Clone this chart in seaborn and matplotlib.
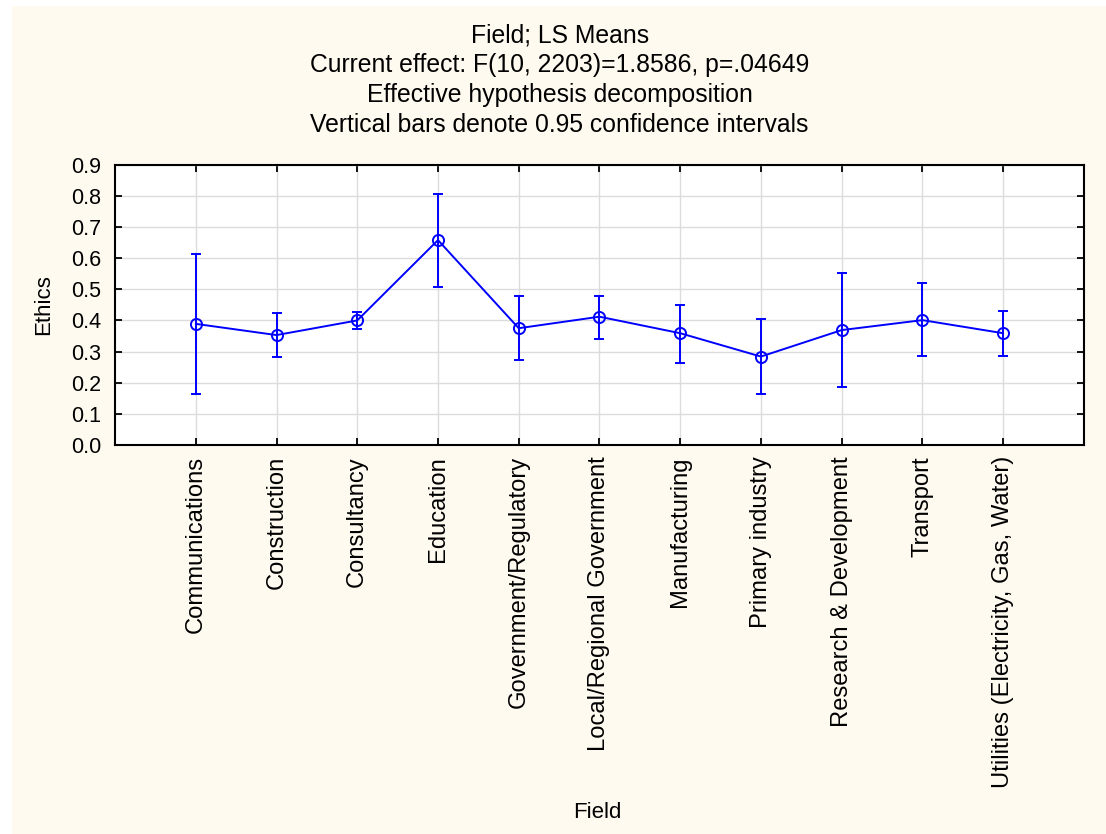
import numpy as np
import pandas as pd
import matplotlib
matplotlib.use("Agg")
import matplotlib.pyplot as plt
from matplotlib.patches import Rectangle
import seaborn as sns

# LS means of Ethics by Field, with 0.95 confidence limits
fields = [
    "Communications",
    "Construction",
    "Consultancy",
    "Education",
    "Government/Regulatory",
    "Local/Regional Government",
    "Manufacturing",
    "Primary industry",
    "Research & Development",
    "Transport",
    "Utilities (Electricity, Gas, Water)",
]
means = [0.389, 0.353, 0.400, 0.658, 0.375, 0.412, 0.359, 0.284, 0.369, 0.401, 0.359]
lower = [0.163, 0.284, 0.374, 0.508, 0.273, 0.340, 0.264, 0.165, 0.185, 0.286, 0.285]
upper = [0.613, 0.424, 0.428, 0.807, 0.480, 0.480, 0.451, 0.405, 0.553, 0.519, 0.430]
y_ticks = [0.0, 0.1, 0.2, 0.3, 0.4, 0.5, 0.6, 0.7, 0.8, 0.9]

title_lines = [
    "Field; LS Means",
    "Current effect: F(10, 2203)=1.8586, p=.04649",
    "Effective hypothesis decomposition",
    "Vertical bars denote 0.95 confidence intervals",
]

sns.set_theme(style="white")
plt.rcParams["font.family"] = ["Liberation Sans", "DejaVu Sans"]

BLUE = "#0000FF"
CREAM = "#FEFAEF"

df = pd.DataFrame({"Field": fields, "Ethics": means,
                   "lower": lower, "upper": upper})

fig = plt.figure(figsize=(11.06, 8.34), dpi=100, facecolor="white")
fig.patches.append(Rectangle((12 / 1106, 0), 1 - 12 / 1106, 1 - 6 / 834,
                             transform=fig.transFigure, facecolor=CREAM,
                             edgecolor="none", zorder=-10))

ax = fig.add_axes([0.104, 0.4664, 0.876, 0.3361])
ax.set_facecolor("white")

sns.pointplot(data=df, x="Field", y="Ethics", errorbar=None, color=BLUE,
              markers="o", markersize=8, linewidth=1.4,
              markerfacecolor="none", markeredgewidth=1.4, ax=ax)

pos = np.arange(len(fields))
m = df["Ethics"].to_numpy()
ax.errorbar(pos, m, yerr=[m - df["lower"].to_numpy(), df["upper"].to_numpy() - m],
            fmt="none", ecolor=BLUE, elinewidth=1.4, capsize=3.3,
            capthick=1.4, zorder=2)

ax.set_xlim(-1, len(fields))
ax.set_ylim(0, 0.9)
ax.set_yticks(y_ticks)
ax.set_yticklabels([f"{v:.1f}" for v in y_ticks], fontsize=15.5)
ax.set_xticks(pos)
ax.set_xticklabels(fields, rotation=90, fontsize=17.1, va="top", ha="center")

ax.grid(True, color="#DCDCDC", linewidth=1.0)
ax.set_axisbelow(True)
for s in ax.spines.values():
    s.set_visible(True)
    s.set_color("black")
    s.set_linewidth(1.5)
ax.tick_params(axis="both", direction="in", length=5, width=1.3,
               color="black", top=True, right=True, left=True, bottom=True,
               labelcolor="black")
ax.tick_params(axis="x", pad=8)
ax.tick_params(axis="y", pad=10)

ax.set_xlabel("Field", fontsize=16, color="black")
ax.set_ylabel("Ethics", fontsize=16, color="black", labelpad=12)
ax.xaxis.set_label_coords(0.498, (834 - 812) / 834 / 0.3361 - 0.4664 / 0.3361,
                          transform=ax.transAxes)
ax.xaxis.label.set_va("center")

for i, line in enumerate(title_lines):
    fig.text(0.506, 1 - (35 + 30 * i) / 834, line, ha="center", va="center",
             fontsize=17.8, color="black")

fig.savefig("out.png", dpi=100, facecolor=fig.get_facecolor())
